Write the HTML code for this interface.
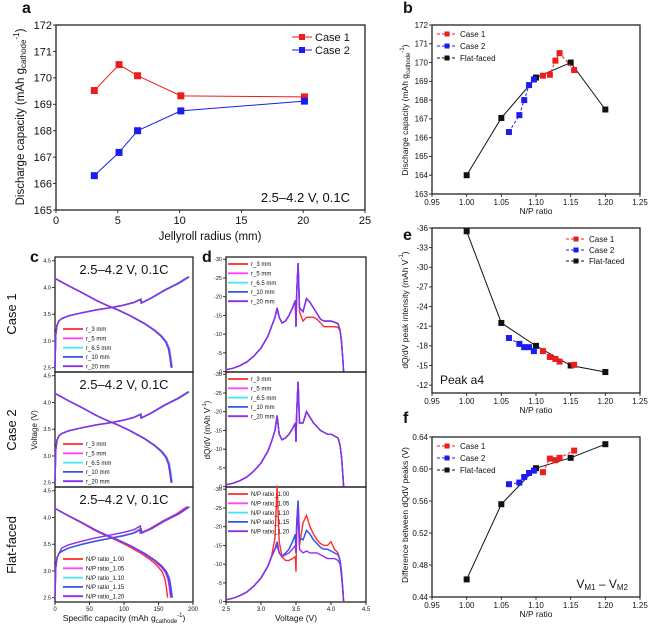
<!DOCTYPE html>
<html><head><meta charset="utf-8">
<style>
html,body{margin:0;padding:0;background:#fff;}
svg{display:block;font-family:"Liberation Sans",Arial,sans-serif;}
</style></head>
<body>
<svg id="fig" width="659" height="632" viewBox="0 0 659 632"></svg>
<script>
// ---------- DATA ----------
// panel a
const aRadius1 = [3.1, 5.1, 6.6, 10.1, 20.1];
const aCase1 = [169.52, 170.5, 170.08, 169.32, 169.28];
const aRadius2 = [3.1, 5.1, 6.6, 10.1, 20.1];
const aCase2 = [166.3, 167.18, 168.0, 168.75, 169.12];
const aXTicks = [0, 5, 10, 15, 20, 25];
const aYTicks = [165, 166, 167, 168, 169, 170, 171, 172];
// panel b
const bFlatX = [1.00, 1.05, 1.10, 1.15, 1.20];
const bFlatY = [164.0, 167.05, 169.2, 170.0, 167.5];
const bCase1X = [1.110, 1.120, 1.128, 1.134, 1.155];
const bCase1Y = [169.3, 169.35, 170.1, 170.5, 169.6];
const bCase2X = [1.061, 1.076, 1.083, 1.090, 1.097];
const bCase2Y = [166.3, 167.2, 168.0, 168.8, 169.1];
const bYTicks = [163, 164, 165, 166, 167, 168, 169, 170, 171, 172];
const npTicks = [0.95, 1.00, 1.05, 1.10, 1.15, 1.20, 1.25];
// panel e
const eFlatY = [-35.5, -21.5, -18.0, -15.0, -14.0];
const eCase1Y = [-17.2, -16.3, -16.0, -15.6, -15.1];
const eCase2Y = [-19.2, -18.3, -17.8, -17.8, -17.2];
const eYTicks = [-36, -33, -30, -27, -24, -21, -18, -15, -12];
// panel f
const fFlatY = [0.462, 0.556, 0.601, 0.614, 0.631];
const fCase1Y = [0.596, 0.613, 0.611, 0.614, 0.623];
const fCase2Y = [0.581, 0.583, 0.590, 0.595, 0.598];
const fYTicks = [0.44, 0.48, 0.52, 0.56, 0.60, 0.64];
// panel c (voltage profiles)
const chgCap = [0, 1, 3, 6, 10, 20, 40, 60, 80, 100, 115, 125, 126, 140, 160, 180, 195];
const chgV = [2.5, 3.1, 3.3, 3.38, 3.42, 3.47, 3.53, 3.58, 3.62, 3.67, 3.72, 3.78, 3.71, 3.8, 3.95, 4.08, 4.2];
const disCap = [0, 20, 40, 60, 75, 90, 110, 130, 145, 155, 162, 166, 168, 170];
const disV = [4.17, 4.03, 3.9, 3.76, 3.67, 3.59, 3.47, 3.33, 3.2, 3.09, 2.98, 2.85, 2.7, 2.5];
const flatChgV = [2.5, 3.05, 3.25, 3.33, 3.37, 3.43, 3.5, 3.56, 3.61, 3.66, 3.71, 3.78, 3.71, 3.79, 3.94, 4.07, 4.2];
const cScale1 = [1.0, 0.995, 1.0, 0.99, 0.995];
const cScale2 = [0.99, 0.995, 1.0, 0.995, 0.99];
const cScaleF = [0.96, 0.985, 0.99, 1.0, 0.99];
const cLabels1 = ["r_3 mm", "r_5 mm", "r_6.5 mm", "r_10 mm", "r_20 mm"];
const cLabelsF = ["N/P ratio_1.00", "N/P ratio_1.05", "N/P ratio_1.10", "N/P ratio_1.15", "N/P ratio_1.20"];
const capTicks = [0, 50, 100, 150, 200];
const voltTicks = [2.5, 3.0, 3.5, 4.0, 4.5];
// panel d (dQ/dV)
const dV = [2.5, 2.6, 2.7, 2.8, 2.9, 3.0, 3.1, 3.15, 3.2, 3.23, 3.26, 3.3, 3.35, 3.4, 3.45, 3.49, 3.5, 3.51, 3.53, 3.55, 3.6, 3.65, 3.7, 3.75, 3.8, 3.85, 3.9, 3.95, 4.0, 4.05, 4.1, 4.13, 4.15, 4.17, 4.18];
const dMain = [-0.5, -0.9, -1.6, -2.6, -4.2, -6.3, -9.5, -12, -14.5, -17, -14.5, -13, -13.5, -15, -17, -19, -12, -21, -29, -17, -16, -19.5, -18.5, -17, -15.5, -14, -13.5, -13.5, -13.5, -13.2, -12.8, -11, -8, -3, 0];
const dRed1 = [-0.5, -0.9, -1.6, -2.6, -4.2, -6.3, -9.5, -12, -14.5, -16.5, -14.5, -13, -13.5, -15, -17, -19, -12, -21, -28, -16, -13.5, -14.5, -14.5, -14.5, -14, -13, -12, -12, -12, -12, -11.8, -11, -8, -3, 0];
const dMain2 = [-0.5, -0.9, -1.6, -2.6, -4.2, -6.3, -9.5, -12, -15, -19, -14, -12.5, -13, -14, -15.5, -17, -12, -20, -28, -17, -17, -20, -18.5, -17, -16, -15, -14.5, -14, -14, -13.5, -13, -11, -8, -3, 0];
const dFlat = [-0.5, -0.9, -1.6, -2.6, -4.2, -6.3, -9.5, -12, -14, -16, -13, -12, -13, -14, -16, -18, -13, -21, -27, -17, -16.5, -19, -18, -16.5, -15.5, -14.5, -14, -14, -13.5, -13, -12.5, -11, -8, -3, 0];
const dFlatRed = [-0.5, -0.9, -1.6, -2.6, -4.2, -6.3, -9.5, -12, -17, -31, -16, -12, -11, -11, -11.5, -12, -8, -20, -24, -15, -21, -23, -20, -18, -16.5, -15.5, -15, -15, -16, -14, -13, -11, -7, -3, 0];
const dFlatPur = [-0.5, -0.9, -1.6, -2.6, -4.2, -6.3, -9.5, -12, -14, -15, -13, -12, -12.5, -13, -14, -15, -13, -18, -25, -14, -13, -13.5, -13, -13, -13, -12.5, -12, -11.5, -11.5, -11.5, -11, -10, -7, -3, 0];
const dTicks = [0, -5, -10, -15, -20, -25, -30];
const dXTicks = [2.5, 3.0, 3.5, 4.0, 4.5];
const seriesColors = ["#ff2a2a", "#ff44ff", "#44e4f4", "#3355e6", "#8c2ee8"];

// ---------- HELPERS ----------
const NS = "http://www.w3.org/2000/svg";
const svg = document.getElementById("fig");
function mk(tag, attrs, parent, name) {
  const e = document.createElementNS(NS, tag);
  for (const k in attrs) e.setAttribute(k, attrs[k]);
  
  
  (parent || svg).appendChild(e);
  return e;
}
function txt(x, y, s, size, anchor, name, extra) {
  const t = mk("text", Object.assign({x: x, y: y, "font-size": size, "text-anchor": anchor || "start", fill: "#111"}, extra || {}), svg, name);
  t.innerHTML = s;
  return t;
}
function scale(d0, d1, r0, r1) { return v => r0 + (v - d0) / (d1 - d0) * (r1 - r0); }
function frame(x0, y0, x1, y1, name) {
  mk("rect", {x: x0, y: y0, width: x1 - x0, height: y1 - y0, fill: "none", stroke: "#222", "stroke-width": 1.3}, svg, name);
}
function xTicks(ticks, sx, y, labels, size, name, fmt) {
  ticks.forEach((v, i) => {
    mk("line", {x1: sx(v), x2: sx(v), y1: y, y2: y + 3, stroke: "#222", "stroke-width": 0.9}, svg, name + "-tick");
    if (labels) txt(sx(v), y + 3 + size, fmt ? fmt(v) : v, size, "middle", name + "-label");
  });
}
function yTicks(ticks, sy, x, labels, size, name, fmt) {
  ticks.forEach(v => {
    mk("line", {x1: x - 3, x2: x, y1: sy(v), y2: sy(v), stroke: "#222", "stroke-width": 0.9}, svg, name + "-tick");
    if (labels) txt(x - 4, sy(v) + size * 0.35, fmt ? fmt(v) : v, size, "end", name + "-label");
  });
}
function series(xs, ys, sx, sy, color, name, marker, dash, w) {
  const pts = xs.map((x, i) => sx(x).toFixed(2) + "," + sy(ys[i]).toFixed(2)).join(" ");
  mk("polyline", {points: pts, fill: "none", stroke: color, "stroke-width": w || 1, "stroke-dasharray": dash || "none"}, svg, name + "-line");
  if (marker) xs.forEach((x, i) => {
    mk("rect", {x: sx(x) - marker / 2, y: sy(ys[i]) - marker / 2, width: marker, height: marker, fill: color}, svg, name + "-point");
  });
}
function legendMark(x, y, color, label, size, name, marker, dash, w) {
  mk("line", {x1: x, x2: x + 20, y1: y, y2: y, stroke: color, "stroke-width": w || 1, "stroke-dasharray": dash || "none"}, svg, name + "-swatch");
  if (marker) mk("rect", {x: x + 10 - marker / 2, y: y - marker / 2, width: marker, height: marker, fill: color}, svg, name + "-marker");
  txt(x + 23, y + size * 0.36, label, size, "start", name + "-text");
}
const ytitle = (x, y, s, size, name) => txt(x, y, s, size, "middle", name, {transform: "rotate(-90 " + x + " " + y + ")"});

// ---------- PANEL A ----------
{
  const sx = scale(0, 25, 56, 365), sy = scale(172, 165, 25, 210);
  frame(56, 25, 365, 210, "panel-a-frame");
  xTicks(aXTicks, sx, 210, true, 11, "a-x");
  yTicks(aYTicks, sy, 56, true, 11, "a-y");
  series(aRadius1, aCase1, sx, sy, "#ee1c1c", "a-case1", 7);
  series(aRadius2, aCase2, sx, sy, "#1c1cee", "a-case2", 7);
  legendMark(292, 37, "#ee1c1c", "Case 1", 11, "a-legend-case1", 6);
  legendMark(292, 50, "#1c1cee", "Case 2", 11, "a-legend-case2", 6);
  txt(350, 202, "2.5–4.2 V, 0.1C", 13, "end", "a-condition-note");
  txt(210, 240, "Jellyroll radius (mm)", 11.5, "middle", "a-x-title");
  ytitle(24, 117, 'Discharge capacity (mAh g<tspan font-size="8" dy="2">cathode</tspan><tspan font-size="8" dy="-7">-1</tspan><tspan dy="5">)</tspan>', 11.5, "a-y-title");
  txt(22, 13, "a", 16, "start", "panel-a-letter", {"font-weight": "bold"});
}
// ---------- PANELS B, E, F ----------
const npx = scale(0.95, 1.25, 432, 640);
{
  const sy = scale(172, 163, 25, 194);
  frame(432, 25, 640, 194, "panel-b-frame");
  xTicks(npTicks, npx, 194, true, 8, "b-x", v => v.toFixed(2));
  yTicks(bYTicks, sy, 432, true, 8, "b-y");
  series(bFlatX, bFlatY, npx, sy, "#111", "b-flat", 6);
  series(bCase2X, bCase2Y, npx, sy, "#1c1cee", "b-case2", 6, "3,2");
  series(bCase1X, bCase1Y, npx, sy, "#ee1c1c", "b-case1", 6, "3,2");
  legendMark(437, 34, "#ee1c1c", "Case 1", 8, "b-legend-case1", 5, "3,2");
  legendMark(437, 46, "#1c1cee", "Case 2", 8, "b-legend-case2", 5, "3,2");
  legendMark(437, 58, "#111", "Flat-faced", 8, "b-legend-flat", 5, "3,2");
  txt(536, 214, "N/P ratio", 8.5, "middle", "b-x-title");
  ytitle(408, 110, 'Discharge capacity (mAh g<tspan font-size="6" dy="2">cathode</tspan><tspan font-size="6" dy="-6">-1</tspan><tspan dy="4">)</tspan>', 8.5, "b-y-title");
  txt(403, 13, "b", 16, "start", "panel-b-letter", {"font-weight": "bold"});
}
{
  const sy = scale(-36, -10.8, 228, 393);
  frame(432, 228, 640, 393, "panel-e-frame");
  xTicks(npTicks, npx, 393, true, 8, "e-x", v => v.toFixed(2));
  yTicks(eYTicks, sy, 432, true, 8, "e-y");
  series(bFlatX, eFlatY, npx, sy, "#111", "e-flat", 6);
  series(bCase2X, eCase2Y, npx, sy, "#1c1cee", "e-case2", 6, "3,2");
  series(bCase1X, eCase1Y, npx, sy, "#ee1c1c", "e-case1", 6, "3,2");
  legendMark(566, 239, "#ee1c1c", "Case 1", 8, "e-legend-case1", 5, "3,2");
  legendMark(566, 250, "#1c1cee", "Case 2", 8, "e-legend-case2", 5, "3,2");
  legendMark(566, 261, "#111", "Flat-faced", 8, "e-legend-flat", 5, "3,2");
  txt(440, 384, "Peak a4", 12, "start", "e-peak-label");
  txt(536, 413, "N/P ratio", 8.5, "middle", "e-x-title");
  ytitle(408, 310, 'dQ/dV peak intensity (mAh V<tspan font-size="6" dy="-5">-1</tspan><tspan dy="5">)</tspan>', 8.5, "e-y-title");
  txt(403, 240, "e", 16, "start", "panel-e-letter", {"font-weight": "bold"});
}
{
  const sy = scale(0.64, 0.44, 437, 597);
  frame(432, 437, 640, 597, "panel-f-frame");
  xTicks(npTicks, npx, 597, true, 8, "f-x", v => v.toFixed(2));
  yTicks(fYTicks, sy, 432, true, 8, "f-y", v => v.toFixed(2));
  series(bFlatX, fFlatY, npx, sy, "#111", "f-flat", 6);
  series(bCase2X, fCase2Y, npx, sy, "#1c1cee", "f-case2", 6, "3,2");
  series(bCase1X, fCase1Y, npx, sy, "#ee1c1c", "f-case1", 6, "3,2");
  legendMark(437, 446, "#ee1c1c", "Case 1", 8, "f-legend-case1", 5, "3,2");
  legendMark(437, 458, "#1c1cee", "Case 2", 8, "f-legend-case2", 5, "3,2");
  legendMark(437, 470, "#111", "Flat-faced", 8, "f-legend-flat", 5, "3,2");
  txt(628, 588, 'V<tspan font-size="8" dy="2">M1</tspan><tspan dy="-2"> – V</tspan><tspan font-size="8" dy="2">M2</tspan>', 12, "end", "f-vm-label");
  txt(536, 617, "N/P ratio", 8.5, "middle", "f-x-title");
  ytitle(408, 515, "Difference between dQdV peaks (V)", 8.5, "f-y-title");
  txt(403, 423, "f", 16, "start", "panel-f-letter", {"font-weight": "bold"});
}
// ---------- PANEL C ----------
const subs = [[257, 372], [372, 487], [487, 602]];
const cx = scale(0, 200, 55, 193);
function dFlatPurCharge() { return flatChgV.map((v, i) => i > 3 && i < 12 ? v + 0.06 : v); }
subs.forEach((s, k) => {
  const sy = scale(4.57, 2.42, s[0], s[1]);
  frame(55, s[0], 193, s[1], "c-subplot-frame");
  yTicks(voltTicks, sy, 55, true, 5.5, "c-y", v => v.toFixed(1));
  xTicks(capTicks, cx, 602, k === 2, 6, "c-x");
  const scl = k === 0 ? cScale1 : (k === 1 ? cScale2 : cScaleF);
  const labels = k === 2 ? cLabelsF : cLabels1;
  seriesColors.forEach((col, i) => {
    const cv = k === 2 && i === 4 ? dFlatPurCharge() : (k === 2 ? flatChgV : chgV);
    const ccap = chgCap.map(c => c * scl[i] * (k === 2 && i === 0 ? 1.02 : 1));
    series(ccap, cv, cx, sy, col, "c-charge-curve", 0, null, 1.4);
    series(disCap.map(c => c * scl[i]), disV, cx, sy, col, "c-discharge-curve", 0, null, 1.4);
    legendMark(63, s[1] - 43 + i * 9.3, col, labels[i], 6, "c-legend-entry", 0, null, 1.8);
  });
  txt(124, s[0] + 17, "2.5–4.2 V, 0.1C", 13, "middle", "c-condition-note");
});
txt(30, 262, "c", 16, "start", "panel-c-letter", {"font-weight": "bold"});
ytitle(16, 314, "Case 1", 13, "row-label-case1");
ytitle(16, 430, "Case 2", 13, "row-label-case2");
ytitle(16, 545, "Flat-faced", 13, "row-label-flat");
ytitle(37, 430, "Voltage (V)", 8, "c-y-title");
txt(124, 621, 'Specific capacity (mAh g<tspan font-size="6" dy="2">cathode</tspan><tspan font-size="6" dy="-6">-1</tspan><tspan dy="4">)</tspan>', 8.5, "middle", "c-x-title");
// ---------- PANEL D ----------
const dx = scale(2.5, 4.5, 226, 366);
subs.forEach((s, k) => {
  const sy = scale(-30.6, 0.1, s[0], s[1]);
  frame(226, s[0], 366, s[1], "d-subplot-frame");
  yTicks(dTicks, sy, 226, true, 5.5, "d-y");
  xTicks(dXTicks, dx, 602, k === 2, 6, "d-x", v => v.toFixed(1));
  const labels = k === 2 ? cLabelsF : cLabels1;
  seriesColors.forEach((col, i) => {
    let ys = k === 0 ? (i === 0 ? dRed1 : dMain) : (k === 1 ? dMain2 : (i === 0 ? dFlatRed : (i === 4 ? dFlatPur : dFlat)));
    series(dV, ys, dx, sy, col, "d-dqdv-curve", 0, null, 1.4);
    legendMark(228, s[0] + 7 + i * 9.3, col, labels[i], 6, "d-legend-entry", 0, null, 1.8);
  });
});
txt(202, 262, "d", 16, "start", "panel-d-letter", {"font-weight": "bold"});
ytitle(210, 430, 'dQ/dV (mAh V<tspan font-size="5" dy="-4">-1</tspan><tspan dy="4">)</tspan>', 8, "d-y-title");
txt(296, 621, "Voltage (V)", 8.5, "middle", "d-x-title");
</script>
</body></html>
